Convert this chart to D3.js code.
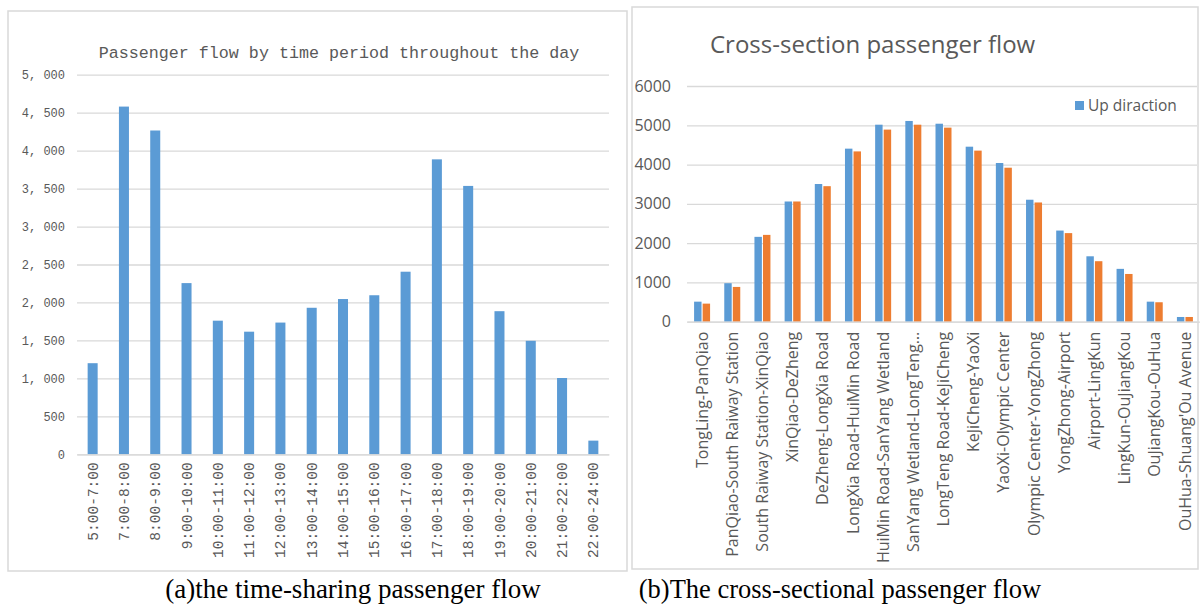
<!DOCTYPE html>
<html>
<head>
<meta charset="utf-8">
<script src="https://cdn.jsdelivr.net/npm/d3@7"></script>
<style>
  body { margin: 0; background: #fff; }
  svg { display: block; }
</style>
</head>
<body>
<svg id="chart" width="1200" height="604"></svg>
<script>
// left chart: time-sharing flow
const periods = ["5:00-7:00", "7:00-8:00", "8:00-9:00", "9:00-10:00", "10:00-11:00", "11:00-12:00",
  "12:00-13:00", "13:00-14:00", "14:00-15:00", "15:00-16:00", "16:00-17:00", "17:00-18:00",
  "18:00-19:00", "19:00-20:00", "20:00-21:00", "21:00-22:00", "22:00-24:00"];
const periodFlow = [1200, 4580, 4265, 2255, 1760, 1615, 1735, 1930, 2045, 2095, 2405, 3885,
  3535, 1885, 1495, 1005, 180];
const leftTicks = [0, 500, 1000, 1500, 2000, 2500, 3000, 3500, 4000, 4500, 5000];

// right chart: cross-section flow
const sections = ["TongLing-PanQiao", "PanQiao-South Raiway Station", "South Raiway Station-XinQiao",
  "XinQiao-DeZheng", "DeZheng-LongXia Road", "LongXia Road-HuiMin Road", "HuiMin Road-SanYang Wetland",
  "SanYang Wetland-LongTeng…", "LongTeng Road-KeJiCheng", "KeJiCheng-YaoXi", "YaoXi-Olympic Center",
  "Olympic Center-YongZhong", "YongZhong-Airport", "Airport-LingKun", "LingKun-OuJiangKou",
  "OuJiangKou-OuHua", "OuHua-Shuang'Ou Avenue"];
const upFlow = [510, 980, 2160, 3060, 3505, 4405, 5015, 5110, 5040, 4455, 4040, 3105, 2320, 1665, 1345, 510, 120];
const downFlow = [460, 885, 2210, 3060, 3450, 4335, 4890, 5015, 4940, 4355, 3920, 3035, 2255, 1540, 1215, 495, 120];
const rightTicks = [0, 1000, 2000, 3000, 4000, 5000, 6000];
const seriesNames = ["Up diraction", "Down diraction"];

const blue = "#5b9bd5", orange = "#ed7d31", grid = "#d9d9d9", txt = "#595959";
const svg = d3.select("#chart");

// panel frames
svg.append("rect").attr("x", 8).attr("y", 11).attr("width", 619).attr("height", 560)
  .attr("fill", "#fff").attr("stroke", grid).attr("stroke-width", 1.5);
svg.append("rect").attr("x", 632).attr("y", 7).attr("width", 566).attr("height", 562)
  .attr("fill", "#fff").attr("stroke", grid).attr("stroke-width", 1.5);

// ---------- left chart ----------
const mono = "'Liberation Mono', 'DejaVu Sans Mono', monospace";
const x1 = d3.scaleBand().domain(periods).range([77, 609]).paddingInner(0.68).paddingOuter(0.34);
const y1 = d3.scaleLinear().domain([0, 5000]).range([454.3, 74.7]);
const fmtLeft = v => d3.format(",")(v).replace(",", ", ");

const left = svg.append("g");
left.append("g")
  .attr("transform", "translate(77,0)")
  .call(d3.axisLeft(y1).tickValues(leftTicks).tickSize(-532).tickFormat(fmtLeft))
  .call(g => g.select(".domain").remove())
  .call(g => g.selectAll(".tick line").attr("stroke", grid).attr("stroke-width", 1.3))
  .call(g => g.selectAll(".tick text").attr("x", -12).attr("fill", txt)
    .style("font-family", mono).style("font-size", "12px"));

left.selectAll(".bar").data(periodFlow).enter().append("rect")
  .attr("x", (d, i) => x1(periods[i]))
  .attr("width", x1.bandwidth())
  .attr("y", d => y1(d))
  .attr("height", d => y1(0) - y1(d))
  .attr("fill", blue);

left.append("g")
  .attr("transform", "translate(0,454.3)")
  .call(d3.axisBottom(x1).tickSize(0))
  .call(g => g.select(".domain").attr("stroke", grid).attr("stroke-width", 1.3))
  .call(g => g.selectAll(".tick text")
    .attr("transform", "rotate(-90)")
    .attr("text-anchor", "end")
    .attr("x", -8).attr("y", 0).attr("dy", "0.35em")
    .attr("fill", txt)
    .style("font-family", mono).style("font-size", "14.5px"));

left.append("text").attr("x", 339).attr("y", 58).attr("text-anchor", "middle")
  .attr("fill", txt).style("font-family", mono).style("font-size", "16.7px")
  .text("Passenger flow by time period throughout the day");

// ---------- right chart ----------
const sans = "'Open Sans', 'Noto Sans', sans-serif";
const x2 = d3.scaleBand().domain(sections).range([687, 1200]).paddingInner(0.47).paddingOuter(0.235);
const xs = d3.scaleBand().domain(seriesNames).range([0, x2.bandwidth()]).paddingInner(0.13);
const y2 = d3.scaleLinear().domain([0, 6000]).range([321.7, 86]);

const right = svg.append("g");
right.append("g")
  .attr("transform", "translate(687,0)")
  .call(d3.axisLeft(y2).tickValues(rightTicks).tickSize(-510).tickFormat(d3.format("d")))
  .call(g => g.select(".domain").remove())
  .call(g => g.selectAll(".tick line").attr("stroke", grid).attr("stroke-width", 1.3))
  .call(g => g.selectAll(".tick text").attr("x", -16).attr("fill", txt)
    .style("font-family", sans).style("font-size", "16px"));

const rows = sections.map((s, i) => ({ s, vals: [upFlow[i], downFlow[i]] }));
const grp = right.selectAll(".grp").data(rows).enter().append("g")
  .attr("transform", d => `translate(${x2(d.s)},0)`);
grp.selectAll("rect").data(d => d.vals).enter().append("rect")
  .attr("x", (d, i) => xs(seriesNames[i]))
  .attr("width", xs.bandwidth())
  .attr("y", d => y2(d))
  .attr("height", d => y2(0) - y2(d))
  .attr("fill", (d, i) => i === 0 ? blue : orange);

right.append("g")
  .attr("transform", "translate(0,321.7)")
  .call(d3.axisBottom(x2).tickSize(0))
  .call(g => g.select(".domain").attr("stroke", grid).attr("stroke-width", 1.3))
  .call(g => g.selectAll(".tick text")
    .attr("transform", "rotate(-90)")
    .attr("text-anchor", "end")
    .attr("x", -10).attr("y", 0).attr("dy", "0.35em")
    .attr("fill", txt)
    .style("font-family", sans).style("font-size", "16px"));

right.append("text").attr("x", 710).attr("y", 53)
  .attr("fill", txt).style("font-family", sans).style("font-size", "24px")
  .text("Cross-section passenger flow");

// legend (only the first entry is visible)
right.append("rect").attr("x", 1075).attr("y", 101).attr("width", 9).attr("height", 9).attr("fill", blue);
right.append("text").attr("x", 1088).attr("y", 111)
  .attr("fill", txt).style("font-family", sans).style("font-size", "15.5px")
  .text(seriesNames[0]);

// captions
const serif = "'Liberation Serif', 'DejaVu Serif', serif";
svg.append("text").attr("x", 353).attr("y", 598).attr("text-anchor", "middle")
  .style("font-family", serif).style("font-size", "27px").attr("fill", "#000")
  .text("(a)the time-sharing passenger flow");
svg.append("text").attr("x", 840).attr("y", 598).attr("text-anchor", "middle")
  .style("font-family", serif).style("font-size", "26.5px").attr("fill", "#000")
  .text("(b)The cross-sectional passenger flow");
</script>
</body>
</html>
